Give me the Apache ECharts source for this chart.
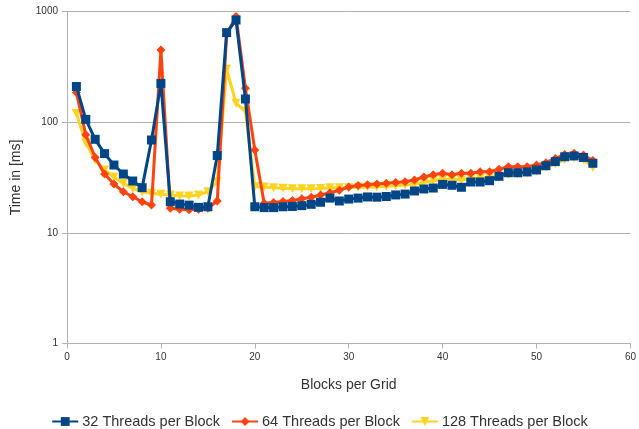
<!DOCTYPE html>
<html><head><meta charset="utf-8">
<script src="https://cdn.jsdelivr.net/npm/echarts@6/dist/echarts.min.js"></script>
<style>html,body{margin:0;padding:0;background:#fff}#c{width:639px;height:429px}</style>
</head><body><div id="c"></div>
<script>
var blocks = [];
for (var i = 1; i <= 56; i++) blocks.push(i);
var t32 = [210,106,70,52,41,34,29.4,25.6,69,224,19.1,18.2,17.8,17,17.2,50,645,838,162,17.2,16.9,16.9,17.2,17.3,17.6,18.1,18.9,20.6,19.4,20.2,20.6,21.1,21.0,21.3,22,22.4,23.9,24.9,25.4,27.4,26.9,25.8,28.8,28.8,29.6,32.4,34.9,34.9,35.5,37,40.4,44,48.7,49.5,48,42.5];
var t64 = [185,77,48,34,27.6,23.5,21.2,19.1,17.8,449,16.7,16.3,16.2,16.3,16.7,19.4,620,900,202,56,18.5,18.8,19.2,19.6,20.3,21,22,23,24.2,26,26.8,27.2,27.6,28,28.5,29,30,32,33.5,34.5,33.5,34.5,34.5,35.7,35.7,37.5,39.5,39.5,39.5,41,43,47,51,52.5,50.5,45];
var t128 = [120,65,45.5,37,32,28,25.2,23.5,22.8,22.3,22,21.5,21.5,22,23.5,29,300,148,125,26.1,26,25.5,25.3,25,25,25,25.2,25.5,25.5,25.5,25.8,26,26,26.3,26.7,27,27.5,28.5,29.5,30.5,30.5,30,31,31.5,31.5,32.5,33.5,34,34.5,36,39,42,46,47.5,46,39];
var names = ['32 Threads per Block','64 Threads per Block','128 Threads per Block'];
var xTicks = [0,10,20,30,40,50,60];

function pairs(v){ return blocks.map(function(b,i){ return [b, v[i]]; }); }

var chart = echarts.init(document.getElementById('c'), null, {renderer:'canvas'});
var font = 'Liberation Sans, Arial, sans-serif';
chart.setOption({
  animation:false,
  backgroundColor:'#fff',
  grid:{left:67,right:7,top:11.5,bottom:85.5,containLabel:false},
  legend:{
    data:names, top:409, left:'center', itemWidth:26, itemHeight:11, itemGap:11,
    textStyle:{fontFamily:font,fontSize:14.5,color:'#333',padding:[0,0,0,-1]}
  },
  xAxis:{
    type:'value', min:0, max:60, interval:10,
    name:'Blocks per Grid', nameLocation:'middle', nameGap:35,
    nameTextStyle:{fontFamily:font,fontSize:14,color:'#333'},
    axisLine:{show:true,lineStyle:{color:'#b3b3b3',width:1}},
    axisTick:{show:true,length:5,lineStyle:{color:'#b3b3b3'}},
    axisLabel:{fontFamily:font,fontSize:10,color:'#333',margin:9},
    splitLine:{show:false}
  },
  yAxis:{
    type:'log', logBase:10, min:1, max:1000,
    name:'Time in [ms]', nameLocation:'middle', nameGap:44, nameRotate:90,
    nameTextStyle:{fontFamily:font,fontSize:14,color:'#333'},
    axisLine:{show:true,lineStyle:{color:'#b3b3b3',width:1}},
    axisTick:{show:true,length:5,lineStyle:{color:'#b3b3b3'}},
    axisLabel:{fontFamily:font,fontSize:10,color:'#333',margin:9,formatter:function(v){return String(Math.round(v));}},
    splitLine:{show:true,lineStyle:{color:'#b3b3b3',width:1}},
    minorTick:{show:false}
  },
  series:[
    {name:names[0],type:'line',data:pairs(t32),z:4,symbol:'rect',symbolSize:9,
     lineStyle:{color:'#004586',width:3},itemStyle:{color:'#004586'}},
    {name:names[1],type:'line',data:pairs(t64),z:3,symbol:'diamond',symbolSize:9,
     lineStyle:{color:'#ff420e',width:3},itemStyle:{color:'#ff420e'}},
    {name:names[2],type:'line',data:pairs(t128),z:2,symbol:'triangle',symbolRotate:180,symbolSize:9,
     lineStyle:{color:'#ffd320',width:3},itemStyle:{color:'#ffd320'}}
  ]
});
</script></body></html>
